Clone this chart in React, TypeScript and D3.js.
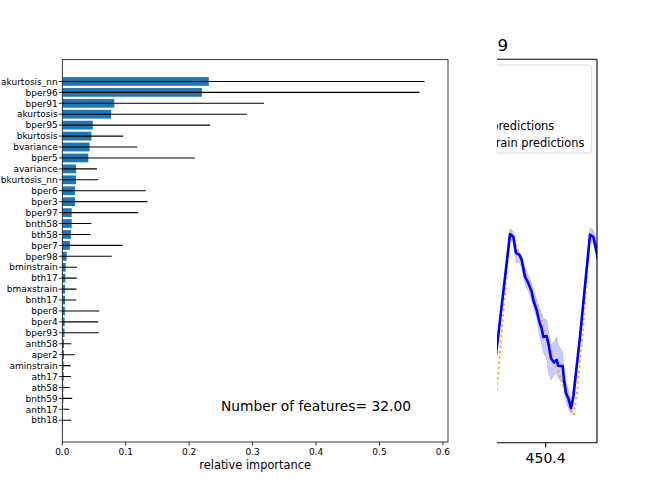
import React, { useEffect, useRef } from "react";
import * as d3 from "d3";

// feature importance panel
const features = [
  "akurtosis_nn", "bper96", "bper91", "akurtosis", "bper95", "bkurtosis",
  "bvariance", "bper5", "avariance", "bkurtosis_nn", "bper6", "bper3",
  "bper97", "bnth58", "bth58", "bper7", "bper98", "bminstrain", "bth17",
  "bmaxstrain", "bnth17", "bper8", "bper4", "bper93", "anth58", "aper2",
  "aminstrain", "ath17", "ath58", "bnth59", "anth17", "bth18",
];
const importance = [
  0.231, 0.22, 0.082, 0.077, 0.048, 0.046, 0.043, 0.041, 0.0216, 0.0216,
  0.02, 0.02, 0.0148, 0.0148, 0.0137, 0.012, 0.0069, 0.0053, 0.0048, 0.0042,
  0.0042, 0.004, 0.0037, 0.0035, 0.0027, 0.0027, 0.0022, 0.0022, 0.0016,
  0.0016, 0.001, 0.001,
];
const importanceErr = [
  0.34, 0.343, 0.236, 0.214, 0.185, 0.05, 0.075, 0.168, 0.033, 0.035, 0.112,
  0.114, 0.105, 0.031, 0.031, 0.083, 0.071, 0.018, 0.018, 0.018, 0.018,
  0.054, 0.053, 0.054, 0.0115, 0.017, 0.011, 0.0115, 0.01, 0.014, 0.01,
  0.013,
];
const importanceTicks = [0, 0.1, 0.2, 0.3, 0.4, 0.5, 0.6];
const nFeatures = 32;

// prediction panel (only its right end shows)
const predTime = [
  450.227, 450.258, 450.293, 450.303, 450.311, 450.321, 450.328, 450.338,
  450.348, 450.358, 450.363, 450.373, 450.381, 450.388, 450.393, 450.403,
  450.408, 450.416, 450.425, 450.433, 450.438, 450.451, 450.455, 450.461,
  450.468, 450.476, 450.483, 450.503, 450.533, 450.543, 450.553, 450.563,
];
const predMean = [
  0.059, 0.281, 0.544, 0.537, 0.495, 0.49, 0.477, 0.433, 0.416, 0.394, 0.372,
  0.346, 0.316, 0.298, 0.276, 0.278, 0.259, 0.22, 0.209, 0.216, 0.2, 0.2,
  0.164, 0.129, 0.116, 0.09, 0.12, 0.276, 0.542, 0.537, 0.498, 0.45,
];
const predLow = [
  0.049, 0.27, 0.531, 0.521, 0.469, 0.471, 0.455, 0.414, 0.396, 0.372, 0.351,
  0.325, 0.281, 0.257, 0.236, 0.221, 0.184, 0.164, 0.177, 0.184, 0.169,
  0.156, 0.138, 0.106, 0.09, 0.075, 0.101, 0.26, 0.526, 0.518, 0.479, 0.43,
];
const predHigh = [
  0.069, 0.291, 0.557, 0.552, 0.505, 0.497, 0.487, 0.455, 0.437, 0.416,
  0.398, 0.375, 0.351, 0.336, 0.325, 0.32, 0.294, 0.255, 0.263, 0.276, 0.255,
  0.236, 0.195, 0.158, 0.138, 0.111, 0.143, 0.294, 0.56, 0.555, 0.52, 0.471,
];
const truthTime = [
  450.237, 450.258, 450.265, 450.278, 450.294, 450.313, 450.353, 450.383,
  450.403, 450.433, 450.458, 450.473, 450.483, 450.493, 450.513, 450.533,
  450.548, 450.555, 450.566,
];
const truthValue = [
  0.0, 0.182, 0.26, 0.39, 0.553, 0.511, 0.407, 0.338, 0.276, 0.198, 0.137,
  0.094, 0.072, 0.12, 0.303, 0.55, 0.529, 0.503, 0.47,
];
const timeTicks = [450.4];
const legendLabels = ["predictions", "train predictions"];

const FONT = "DejaVu Sans, sans-serif";

const App: React.FC = () => {
  const svgRef = useRef<SVGSVGElement | null>(null);

  useEffect(() => {
    const svg = d3.select(svgRef.current);
    svg.selectAll("*").remove();

    // ---------- left: importance bars ----------
    const left = { x0: 62.3, x1: 448, y0: 59.7, y1: 442 };
    const x = d3.scaleLinear().domain([0, 0.608]).range([left.x0, left.x1]);
    const y = d3
      .scaleLinear()
      .domain([-1.99, nFeatures - 1 + 1.99])
      .range([left.y0, left.y1]);
    const barH = y(0.8) - y(0);

    svg
      .append("clipPath")
      .attr("id", "clipL")
      .append("rect")
      .attr("x", left.x0)
      .attr("y", left.y0)
      .attr("width", left.x1 - left.x0)
      .attr("height", left.y1 - left.y0);

    const plotL = svg.append("g").attr("clip-path", "url(#clipL)");

    plotL
      .selectAll("rect.bar")
      .data(importance)
      .enter()
      .append("rect")
      .attr("class", "bar")
      .attr("x", x(0))
      .attr("y", (_d, i) => y(i) - barH / 2)
      .attr("width", (d) => x(d) - x(0))
      .attr("height", barH)
      .attr("fill", "#1f77b4");

    plotL
      .selectAll("line.err")
      .data(importance)
      .enter()
      .append("line")
      .attr("class", "err")
      .attr("x1", (d, i) => x(d - importanceErr[i]))
      .attr("x2", (d, i) => x(d + importanceErr[i]))
      .attr("y1", (_d, i) => y(i))
      .attr("y2", (_d, i) => y(i))
      .attr("stroke", "#000")
      .attr("stroke-width", 1.1);

    // y ticks + labels
    const yt = svg.append("g");
    features.forEach((name, i) => {
      yt.append("line")
        .attr("x1", left.x0 - 3.5)
        .attr("x2", left.x0)
        .attr("y1", y(i))
        .attr("y2", y(i))
        .attr("stroke", "#000")
        .attr("stroke-width", 0.8);
      yt.append("text")
        .attr("x", left.x0 - 4.6)
        .attr("y", y(i))
        .attr("dy", "0.36em")
        .attr("text-anchor", "end")
        .attr("font-family", FONT)
        .attr("font-size", 9)
        .text(name);
    });

    // x ticks
    const xt = svg.append("g");
    importanceTicks.forEach((t) => {
      xt.append("line")
        .attr("x1", x(t))
        .attr("x2", x(t))
        .attr("y1", left.y1)
        .attr("y2", left.y1 + 3.5)
        .attr("stroke", "#000")
        .attr("stroke-width", 0.8);
      xt.append("text")
        .attr("x", x(t))
        .attr("y", left.y1 + 13)
        .attr("text-anchor", "middle")
        .attr("font-family", FONT)
        .attr("font-size", 9)
        .text(d3.format(".1f")(t));
    });

    svg
      .append("text")
      .attr("x", (left.x0 + left.x1) / 2)
      .attr("y", 469)
      .attr("text-anchor", "middle")
      .attr("font-family", FONT)
      .attr("font-size", 11.4)
      .text("relative importance");

    svg
      .append("rect")
      .attr("x", left.x0)
      .attr("y", left.y0)
      .attr("width", left.x1 - left.x0)
      .attr("height", left.y1 - left.y0)
      .attr("fill", "none")
      .attr("stroke", "#000")
      .attr("stroke-width", 0.8);

    svg
      .append("text")
      .attr("x", 221)
      .attr("y", 411)
      .attr("font-family", FONT)
      .attr("font-size", 13.8)
      .text(`Number of features= ${nFeatures.toFixed(2)}`);

    // ---------- right: predictions (left part hidden) ----------
    const right = { x0: 497, x1: 597, y0: 59.3, y1: 442.7 };
    const tx = d3
      .scaleLinear()
      .domain([450.254, 450.554])
      .range([right.x0, right.x1]);
    const ty = d3.scaleLinear().domain([0, 1]).range([right.y1, right.y0]);

    svg
      .append("clipPath")
      .attr("id", "clipR")
      .append("rect")
      .attr("x", right.x0)
      .attr("y", right.y0)
      .attr("width", right.x1 - right.x0)
      .attr("height", right.y1 - right.y0);

    const plotR = svg.append("g").attr("clip-path", "url(#clipR)");

    const band = d3
      .area<number>()
      .x((_d, i) => tx(predTime[i]))
      .y0((_d, i) => ty(predLow[i]))
      .y1((_d, i) => ty(predHigh[i]));
    plotR
      .append("path")
      .attr("d", band(predMean))
      .attr("fill", "#0000ff")
      .attr("fill-opacity", 0.2)
      .attr("stroke", "#0000ff")
      .attr("stroke-opacity", 0.15)
      .attr("stroke-width", 1);

    const truthLine = d3
      .line<number>()
      .x((_d, i) => tx(truthTime[i]))
      .y((d) => ty(d));
    plotR
      .append("path")
      .attr("d", truthLine(truthValue))
      .attr("fill", "none")
      .attr("stroke", "orange")
      .attr("stroke-width", 2)
      .attr("stroke-dasharray", "2,3.3");

    const predLine = d3
      .line<number>()
      .x((_d, i) => tx(predTime[i]))
      .y((d) => ty(d));
    plotR
      .append("path")
      .attr("d", predLine(predMean))
      .attr("fill", "none")
      .attr("stroke", "#0000ff")
      .attr("stroke-width", 2.6)
      .attr("stroke-linejoin", "round");

    // spines: top, right, bottom
    const sp = svg.append("g").attr("stroke", "#000").attr("stroke-width", 1.1);
    sp.append("line")
      .attr("x1", right.x0)
      .attr("x2", right.x1)
      .attr("y1", right.y0)
      .attr("y2", right.y0);
    sp.append("line")
      .attr("x1", right.x1)
      .attr("x2", right.x1)
      .attr("y1", right.y0)
      .attr("y2", right.y1);
    sp.append("line")
      .attr("x1", right.x0)
      .attr("x2", right.x1)
      .attr("y1", right.y1)
      .attr("y2", right.y1);

    timeTicks.forEach((t) => {
      svg
        .append("line")
        .attr("x1", tx(t))
        .attr("x2", tx(t))
        .attr("y1", right.y1)
        .attr("y2", right.y1 + 4.9)
        .attr("stroke", "#000")
        .attr("stroke-width", 1.1);
      svg
        .append("text")
        .attr("x", tx(t))
        .attr("y", 463)
        .attr("text-anchor", "middle")
        .attr("font-family", FONT)
        .attr("font-size", 14)
        .text(t.toFixed(1));
    });

    // legend (box clipped on the left)
    const leg = svg.append("g").attr("clip-path", "url(#clipR)");
    leg
      .append("rect")
      .attr("x", 440)
      .attr("y", 65)
      .attr("width", 591.7 - 440)
      .attr("height", 88)
      .attr("rx", 3)
      .attr("fill", "#fff")
      .attr("fill-opacity", 0.8)
      .attr("stroke", "#d9d9d9")
      .attr("stroke-width", 1);
    legendLabels.forEach((lab, i) => {
      leg
        .append("text")
        .attr("x", 491.2)
        .attr("y", 130 + i * 17)
        .attr("font-family", FONT)
        .attr("font-size", 11.4)
        .text(lab);
    });

    svg
      .append("text")
      .attr("x", 497.5)
      .attr("y", 51)
      .attr("font-family", FONT)
      .attr("font-size", 16.7)
      .text("9");
  }, []);

  return (
    <svg
      ref={svgRef}
      width={664}
      height={498}
      style={{ position: "absolute", left: 0, top: 0, background: "#fff" }}
    />
  );
};

export default App;
